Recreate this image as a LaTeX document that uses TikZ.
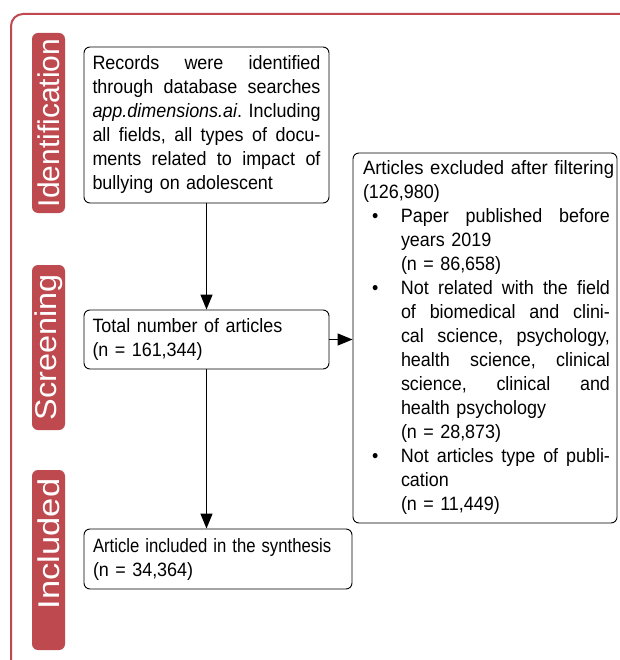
\documentclass[tikz,border=0pt]{standalone}
\usepackage{fontspec}
\setmainfont{Liberation Sans}[FakeStretch=0.93]
\newfontfamily\tabfont{Liberation Sans}
\usetikzlibrary{arrows.meta}
\definecolor{framered}{RGB}{192,72,80}
\definecolor{tabred}{RGB}{190,74,80}
\newcommand{\jl}[2]{\makebox[#1][s]{#2}}
\newcommand{\bitem}[1]{\makebox[41pt][l]{\hspace*{12pt}\textbullet}\makebox[209pt][s]{#1}}
\newcommand{\iitem}[1]{\hspace*{41pt}#1}
\begin{document}
\begin{tikzpicture}[x=1pt,y=-1pt,
  box/.style={draw, line width=0.9pt, rounded corners=6pt, align=left,
    font=\fontsize{19.3}{24}\selectfont, inner sep=0pt},
  tab/.style={fill=tabred, rounded corners=6pt, text=white, rotate=90,
    minimum height=33pt, inner sep=0pt, font=\tabfont\fontsize{30}{32}\selectfont},
  arr/.style={line width=1.3pt, -{Triangle[length=15pt,width=12pt]}}]
\useasboundingbox (0,0) rectangle (619,660);
\draw[framered, line width=2pt, rounded corners=12pt] (11,14) rectangle (645,685);

\node[tab, minimum width=180pt] (tI) at (48.5,123) {Identification};
\node[tab, minimum width=165pt] (tS) at (48.5,347.5) {\scalebox{1.08}[1]{Screening}};
\node[tab, minimum width=180pt] (tN) at (48.5,560) {\hspace*{32pt}\scalebox{1.15}[1]{Included}};

\node[box, minimum width=245pt, minimum height=156pt, text width=228pt] (b1) at (206.5,125) {%
\jl{228pt}{Records\hfill were\hfill identified}\\
\jl{228pt}{through\hfill database\hfill searches}\\
\jl{228pt}{\textit{app.dimensions.ai}.\hfill Including}\\
\jl{228pt}{all\hfill fields,\hfill all\hfill types\hfill of\hfill docu-}\\
\jl{228pt}{ments\hfill related\hfill to\hfill impact\hfill of}\\
bullying on adolescent};

\node[box, minimum width=245pt, minimum height=59pt, text width=228pt] (b2) at (206.5,339.5) {%
Total number of articles\\
(n = 161,344)};

\node[box, minimum width=264pt, minimum height=370pt, text width=250pt] (b3) at (485,338) {%
\hspace*{3pt}\scalebox{1.03}[1]{Articles excluded after filtering}\\
\hspace*{3pt}(126,980)\\
\bitem{Paper\hfill published\hfill before}\\
\iitem{years 2019}\\
\iitem{(n = 86,658)}\\
\bitem{Not\hfill related\hfill with\hfill the\hfill field}\\
\iitem{\jl{209pt}{of\hfill biomedical\hfill and\hfill clini-}}\\
\iitem{\jl{209pt}{cal\hfill science,\hfill psychology,}}\\
\iitem{\jl{209pt}{health\hfill science,\hfill clinical}}\\
\iitem{\jl{209pt}{science,\hfill clinical\hfill and}}\\
\iitem{health psychology}\\
\iitem{(n = 28,873)}\\
\bitem{Not\hfill articles\hfill type\hfill of\hfill publi-}\\
\iitem{cation}\\
\iitem{(n = 11,449)}};

\node[box, minimum width=268pt, minimum height=60pt, text width=250pt] (b4) at (218,559) {%
\scalebox{0.93}[1]{Article included in the synthesis}\\
(n = 34,364)};

\draw[arr] (b1.south) -- (b2.north);
\draw[arr] (b2.south) -- (b2.south |- b4.north);
\draw[arr] (b2.east) -- (b2.east -| b3.west);
\end{tikzpicture}
\end{document}
